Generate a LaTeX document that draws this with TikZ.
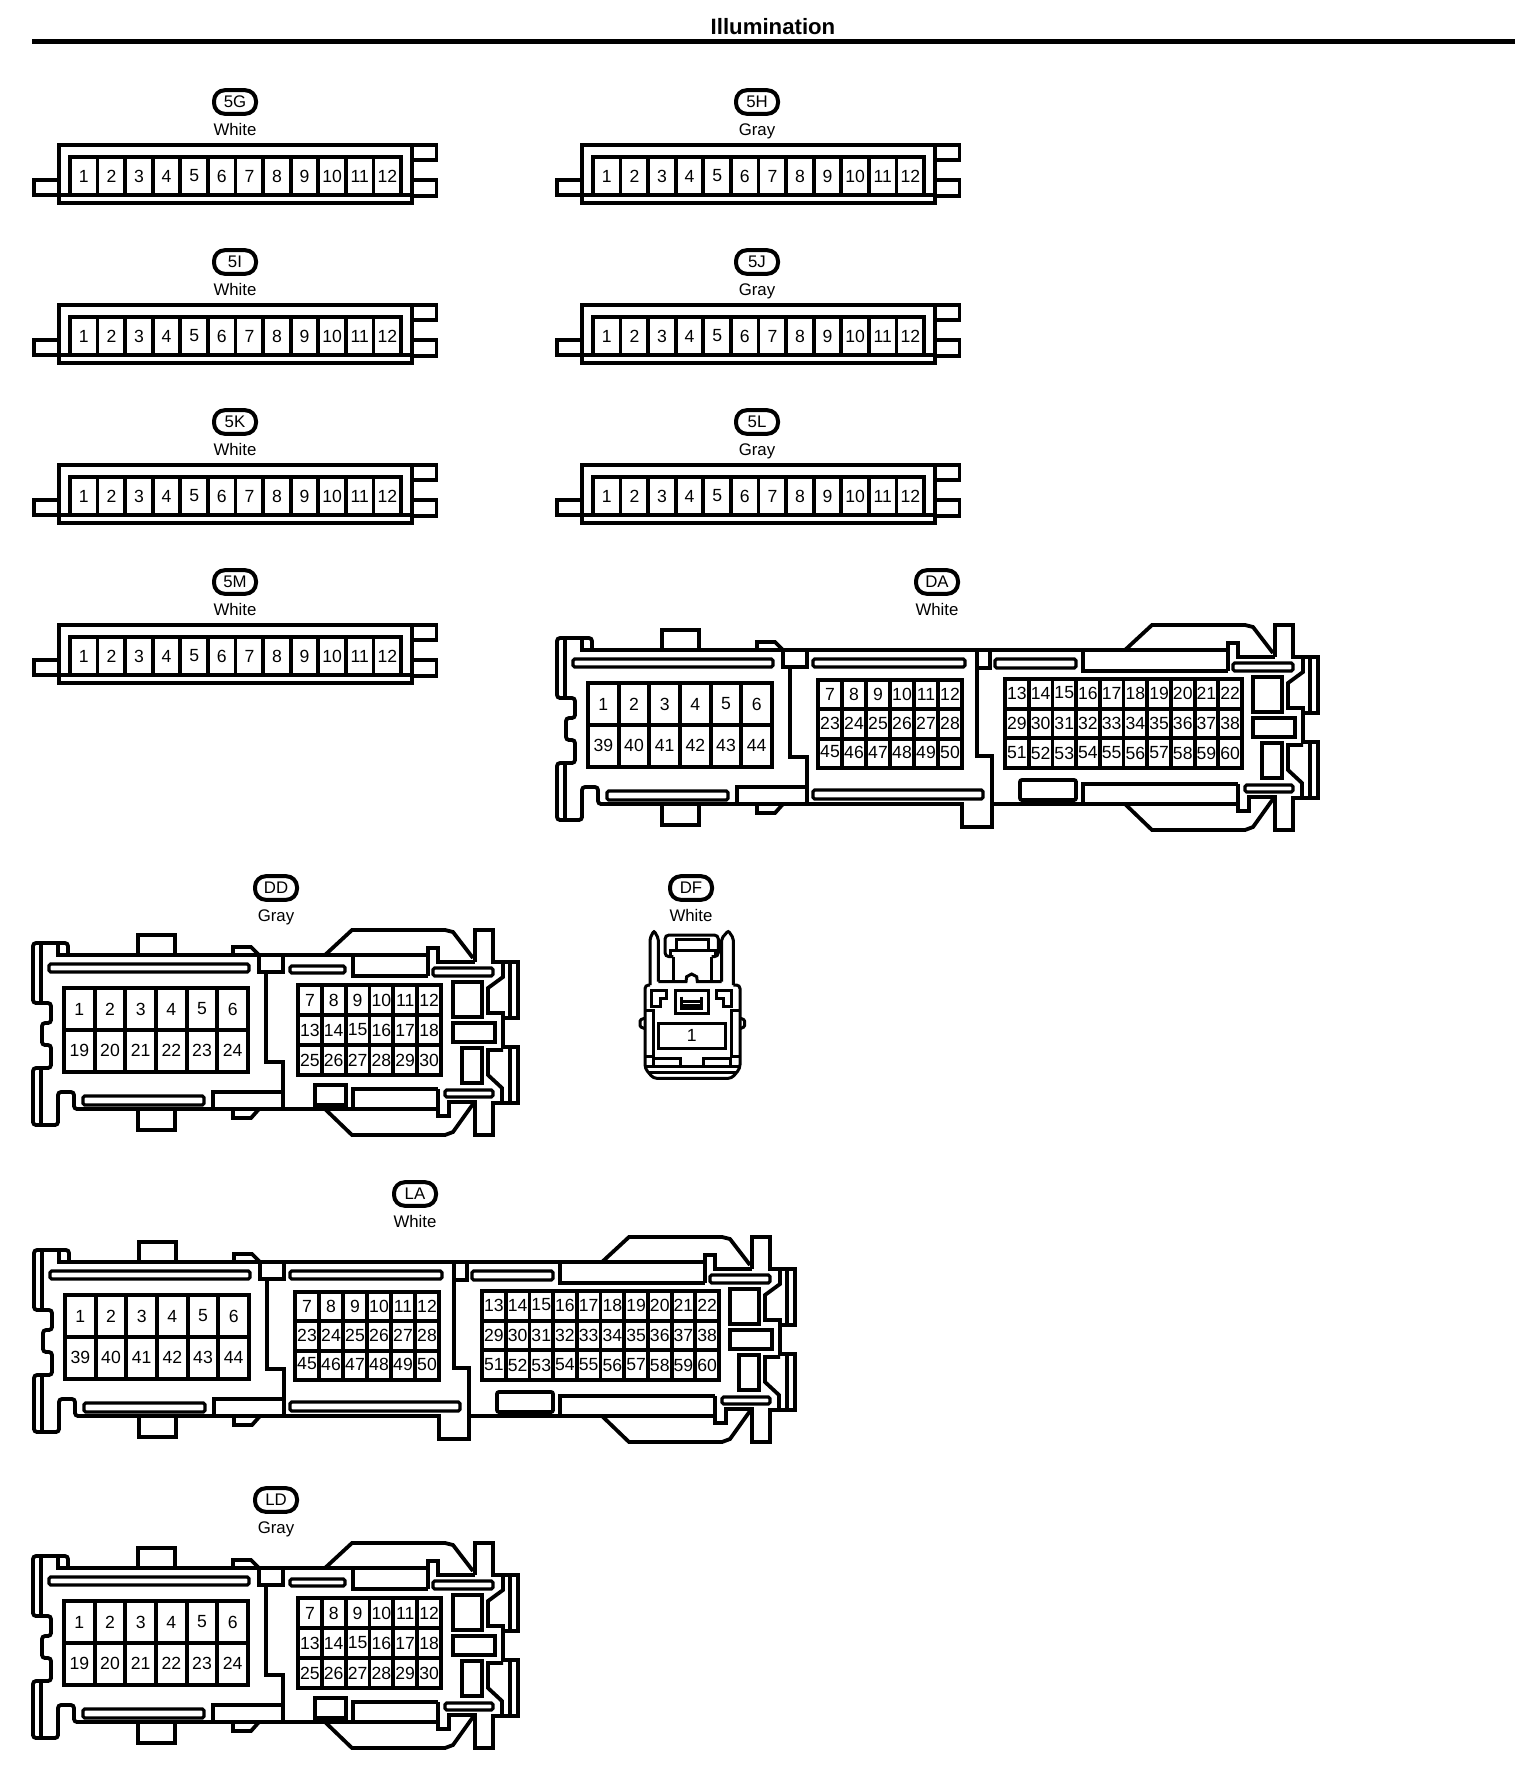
\documentclass[tikz,border=0pt]{standalone}
\usepackage{fontspec}
\setmainfont{Liberation Sans}
\tikzset{
    hsg/.style={line width=1.9pt, line join=miter},
    slim/.style={line width=1.6pt, rounded corners=0.8pt},
    pinlabel/.style={inner sep=0pt, font=\fontsize{8.8}{10}\selectfont},
    tagpill/.style={draw, line width=2pt, rounded corners=5.4pt, minimum width=21pt, minimum height=11.8pt, inner sep=0pt, font=\fontsize{8.4}{10}\selectfont},
    colourlabel/.style={inner sep=0pt, text height=6pt, text depth=0pt, font=\fontsize{8.4}{10}\selectfont},
}
% Grid of cells: x0, y0, x1, y1, columns, rows
\newcommand{\cellgrid}[6]{
    \draw[hsg] (#1,#2) rectangle (#3,#4);
    \pgfmathtruncatemacro{\lastcol}{#5-1}
    \pgfmathtruncatemacro{\lastrow}{#6-1}
    \foreach \c in {1,...,\lastcol}
        \draw[hsg] ({#1+\c*(#3-#1)/#5},#2) -- ({#1+\c*(#3-#1)/#5},#4);
    \foreach \r in {1,...,\lastrow}
        \draw[hsg] (#1,{#2+\r*(#4-#2)/#6}) -- (#3,{#2+\r*(#4-#2)/#6});
}
% Row of pin numbers: x0, pitch, y, list
\newcommand{\pinrow}[4]{
    \foreach \n [count=\i] in {#4}
        \node[pinlabel] (pin\n) at ({#1+(\i-0.5)*#2},#3) {\n};
}
% Tag and colour above a connector: tag, colour, x, y
\newcommand{\tagged}[4]{
    \node[tagpill] (tag#1) at (#3,#4) {#1};
    \node[colourlabel] (colour#1) at (#3,#4+27) {#2};
}
% 12 pin strip connector
\newcommand{\stripconn}[3]{
    \begin{scope}[shift={(#1,#2)}, name prefix=#3-]
        \draw[hsg] (2,1) rectangle (355,59);
        \draw[hsg] (2,51) -- (355,51);
        \draw[hsg] (2,36) -- (-23,36) -- (-23,51) -- (2,51);
        \draw[hsg] (355,1) -- (379.5,1) -- (379.5,16) -- (355,16);
        \draw[hsg] (355,36) -- (379.5,36) -- (379.5,52) -- (355,52);
        \cellgrid{13}{13}{344}{51}{12}{1}
        \pinrow{13}{27.6}{32}{1,2,3,4,5,6,7,8,9,10,11,12}
    \end{scope}
}
% Left part of the big housings
\newcommand{\lefthalf}{
    \draw[hsg] (226,12) -- (218,4) -- (200,4) -- (200,12);
    \draw[hsg] (142,12) -- (142,-8) -- (105,-8) -- (105,12);
    \draw[hsg] (226,12) -- (25,12) -- (25,0);
    \draw[hsg, rounded corners=1.5pt] (35,12) -- (35,0) -- (0,0) -- (0,60) -- (18,60) -- (18,80) -- (9,80) -- (9,102) -- (18,102) -- (18,125) -- (0,125) -- (0,182) -- (25,182) -- (25,149) -- (41,149) -- (41,166) -- (105,166);
    \draw[hsg] (105,166) -- (226,166);
    \draw[hsg] (105,166) -- (105,187) -- (142,187) -- (142,166);
    \draw[hsg] (200,166) -- (200,175) -- (218,175) -- (226,166);
    \draw[hsg] (8,0) -- (8,60);
    \draw[hsg] (8,125) -- (8,182);
    \draw[slim] (16,21) rectangle (216,29);
    \draw[slim] (50,153) rectangle (171,162);
    \draw[hsg] (226,12) -- (226,29) -- (250,29) -- (250,12);
    \draw[hsg] (233,29) -- (233,119) -- (250,119) -- (250,166);
    \draw[hsg] (180,166) -- (180,149) -- (250,149);
    \cellgrid{31}{45}{215}{129}{6}{2}
}
% Right end of the big housings
\newcommand{\rightend}{
    \draw[hsg] (568,12) -- (595,-13) -- (688,-13) -- (696,-11) -- (716,15);
    \draw[hsg] (568,12) -- (671,12) -- (671,5) -- (681,5) -- (681,19) -- (718,19);
    \draw[hsg] (671,12) -- (671,33);
    \draw[hsg] (718,19) -- (718,-13) -- (736,-13) -- (736,19) -- (761,19) -- (761,75) -- (746,75) -- (746,104) -- (761,104) -- (761,160) -- (736,160) -- (736,192) -- (718,192) -- (718,159) -- (692,159) -- (692,173) -- (681,173) -- (681,146);
    \draw[hsg] (568,166) -- (681,166);
    \draw[hsg] (568,166) -- (595,192) -- (688,192) -- (696,189) -- (716,161);
    \draw[hsg] (753,19) -- (753,75);
    \draw[hsg] (753,104) -- (753,160);
    \draw[hsg] (746,19) -- (746,34) -- (731,45) -- (731,70) -- (746,70) -- (746,75);
    \draw[hsg] (746,107) -- (731,107) -- (731,132) -- (745,145) -- (745,160);
    \draw[slim] (676,25) rectangle (736,33);
    \draw[slim] (688,147) rectangle (736,154);
    \draw[hsg] (696,39) rectangle (725,74);
    \draw[hsg] (696,80) rectangle (738,99);
    \draw[hsg] (705,105) rectangle (725,140);
}
% Connector with three cavities
\newcommand{\longconn}[3]{
    \begin{scope}[shift={(#1,#2)}, name prefix=#3-]
        \lefthalf
        \rightend
        \draw[hsg] (226,12) -- (568,12);
        \draw[hsg] (226,166) -- (405,166) -- (405,189) -- (435,189) -- (435,166) -- (568,166);
        % Middle cavity
        \draw[slim] (256,21) rectangle (408,29);
        \draw[slim] (256,152) rectangle (426,161);
        \cellgrid{261}{42}{405}{130}{6}{3}
        % Right cavity
        \draw[hsg] (420,12) -- (420,118) -- (435,118) -- (435,166);
        \draw[hsg] (420,30) -- (433,30) -- (433,12);
        \draw[slim] (438,21) rectangle (519,30);
        \draw[hsg] (526,12) -- (526,33) -- (671,33);
        \draw[hsg] (526,166) -- (526,146) -- (681,146);
        \draw[hsg, rounded corners=1pt] (463,142) rectangle (519,162);
        \cellgrid{448}{41}{685}{130}{10}{3}
        \pinrow{31}{30.67}{66}{1,2,3,4,5,6}
        \pinrow{31}{30.67}{107}{39,40,41,42,43,44}
        \pinrow{261}{24}{56}{7,8,9,10,11,12}
        \pinrow{261}{24}{85}{23,24,25,26,27,28}
        \pinrow{261}{24}{114}{45,46,47,48,49,50}
        \pinrow{448}{23.7}{55}{13,14,15,16,17,18,19,20,21,22}
        \pinrow{448}{23.7}{85}{29,30,31,32,33,34,35,36,37,38}
        \pinrow{448}{23.7}{115}{51,52,53,54,55,56,57,58,59,60}
    \end{scope}
}
% Connector with two cavities
\newcommand{\shortconn}[3]{
    \begin{scope}[shift={(#1,#2)}, name prefix=#3-]
        \lefthalf
        \begin{scope}[shift={(-276,0)}]
            \rightend
        \end{scope}
        \draw[hsg] (226,12) -- (292,12);
        \draw[hsg] (226,166) -- (292,166);
        \draw[slim] (257,23) rectangle (312,30);
        \draw[hsg] (320,12) -- (320,33) -- (395,33);
        \draw[hsg] (320,166) -- (320,146) -- (405,146);
        \draw[hsg] (282,142) rectangle (313,162);
        \cellgrid{265}{42}{408}{132}{6}{3}
        \pinrow{31}{30.67}{66}{1,2,3,4,5,6}
        \pinrow{31}{30.67}{107}{19,20,21,22,23,24}
        \pinrow{265}{23.83}{57}{7,8,9,10,11,12}
        \pinrow{265}{23.83}{87}{13,14,15,16,17,18}
        \pinrow{265}{23.83}{117}{25,26,27,28,29,30}
    \end{scope}
}

\begin{document}
\begin{tikzpicture}[x=0.5pt, y=-0.5pt]
    \useasboundingbox (0,0) rectangle (1536,1784);

    % Title:
    \node[inner sep=0pt, font=\fontsize{11.1}{12}\bfseries\selectfont] (title) at (773,27) {Illumination};
    \coordinate (ruleL) at (32,41.5);
    \coordinate (ruleR) at (1515,41.5);
    \draw[line width=2.5pt] (ruleL) -- (ruleR);

    % Strip connectors:
    \tagged{5G}{White}{235}{102}  \stripconn{57}{144}{fiveG}
    \tagged{5H}{Gray}{757}{102}   \stripconn{580}{144}{fiveH}
    \tagged{5I}{White}{235}{262}  \stripconn{57}{304}{fiveI}
    \tagged{5J}{Gray}{757}{262}   \stripconn{580}{304}{fiveJ}
    \tagged{5K}{White}{235}{422}  \stripconn{57}{464}{fiveK}
    \tagged{5L}{Gray}{757}{422}   \stripconn{580}{464}{fiveL}
    \tagged{5M}{White}{235}{582}  \stripconn{57}{624}{fiveM}

    % Big connectors:
    \tagged{DA}{White}{937}{582}  \longconn{557}{638}{DA}
    \tagged{DD}{Gray}{276}{888}   \shortconn{33}{943}{DD}
    \tagged{LA}{White}{415}{1194} \longconn{34}{1250}{LA}
    \tagged{LD}{Gray}{276}{1500}  \shortconn{33}{1556}{LD}

    % Single pin connector, at three times the pixel size:
    \tagged{DF}{White}{691}{888}
    \begin{scope}[shift={(620,860)}, x=0.16667pt, y=-0.16667pt, line width=1.5pt]
        % Shell
        \draw[rounded corners=1.8pt] (90,375) -- (75,375) -- (75,625) -- (100,655) -- (335,655) -- (360,625) -- (360,375) -- (340,375);
        % Side bumps
        \draw[rounded corners=0.6pt] (75,474) -- (60,480) -- (60,500) -- (75,506);
        \draw[rounded corners=0.6pt] (360,474) -- (374,480) -- (374,500) -- (360,506);
        % Latch arms
        \draw[rounded corners=1pt] (90,375) -- (90,235) -- (102,212) -- (115,235) -- (115,365);
        \draw[rounded corners=1pt] (305,365) -- (305,235) -- (325,212) -- (340,235) -- (340,375);
        \draw (115,365) -- (198,365) -- (200,350) -- (215,342) -- (230,350) -- (232,365) -- (305,365);
        \draw[rounded corners=2pt] (160,290) -- (135,290) -- (135,225) -- (295,225) -- (295,290) -- (275,290);
        \draw (150,290) -- (150,270) -- (170,270) -- (170,237) -- (265,237) -- (265,270) -- (285,270) -- (285,290);
        \draw (170,270) -- (265,270);
        \draw (160,290) -- (160,365);
        \draw (275,290) -- (275,365);
        % Small lugs
        \draw (95,390) -- (140,390) -- (140,415) -- (120,415) -- (120,440) -- (95,440) -- cycle;
        \draw (335,390) -- (290,390) -- (290,415) -- (310,415) -- (310,440) -- (335,440) -- cycle;
        % Centre window
        \draw (165,392) rectangle (265,460);
        \draw (185,410) -- (185,445) -- (245,445) -- (245,410);
        \draw (185,425) -- (245,425);
        \draw (185,435) -- (245,435);
        % Pin window
        \draw (115,490) rectangle (315,565);
        \node[pinlabel] (dfpin) at (215,525) {1};
        % Sides and foot
        \draw (75,450) -- (100,450) -- (100,590) -- (75,590);
        \draw (360,450) -- (335,450) -- (335,590) -- (360,590);
        \draw (100,620) -- (100,595) -- (180,595) -- (180,620);
        \draw (250,620) -- (250,595) -- (330,595) -- (330,620);
        \draw (78,620) -- (357,620);
        \draw (85,637) -- (350,637);
    \end{scope}
\end{tikzpicture}
\end{document}
